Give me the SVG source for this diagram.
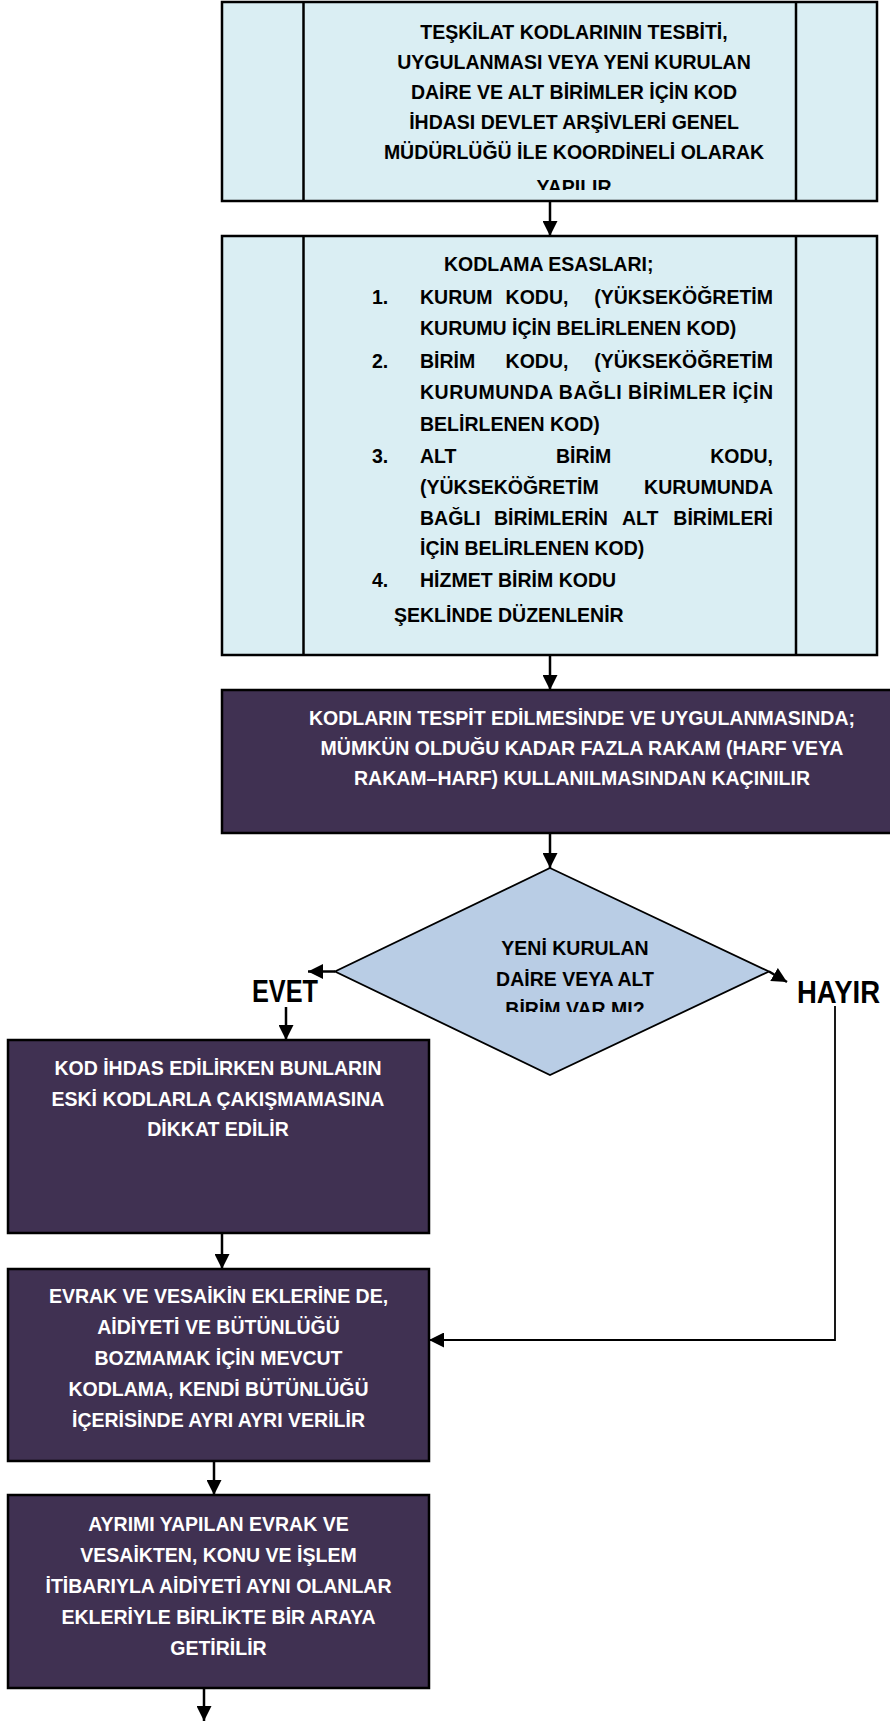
<svg xmlns="http://www.w3.org/2000/svg" width="890" height="1722" viewBox="0 0 890 1722">
<style>
.t{font-family:"Liberation Sans",Arial,sans-serif;font-weight:bold;font-size:19.5px}
.dk{fill:#000}
.wt{fill:#fff}
.c{text-anchor:middle}
.e{text-anchor:end}
.lb{fill:#DAEEF3;stroke:#000;stroke-width:2.5}
.pu{fill:#403152;stroke:#000;stroke-width:2.5}
.dia{fill:#B9CDE5;stroke:#000;stroke-width:1.8}
.ln{stroke:#000;stroke-width:2.5;fill:none}
.cn{stroke:#000;stroke-width:2.5;fill:none}
.cn2{stroke:#000;stroke-width:1.8;fill:none}
.lab{font-family:"Liberation Sans",Arial,sans-serif;font-weight:bold;font-size:31px;fill:#000}
</style>
<defs>
<marker id="ah" viewBox="0 0 10 10" refX="10" refY="5" markerWidth="15" markerHeight="15" markerUnits="userSpaceOnUse" orient="auto">
<path d="M0,0 L10,5 L0,10 z" fill="#000"/>
</marker>
<clipPath id="clip1"><rect x="222" y="0" width="655" height="190"/></clipPath>
<clipPath id="clipD"><rect x="330" y="860" width="450" height="152"/></clipPath>
</defs>
<rect width="890" height="1722" fill="#fff"/>

<g id="connectors">
<line class="cn" x1="550" y1="201" x2="550" y2="236" marker-end="url(#ah)"/>
<line class="cn" x1="550" y1="655" x2="550" y2="690" marker-end="url(#ah)"/>
<line class="cn" x1="550" y1="833" x2="550" y2="868" marker-end="url(#ah)"/>
<line class="cn" x1="335" y1="971.5" x2="308" y2="971.5" marker-end="url(#ah)"/>
<line class="cn" x1="769" y1="971.5" x2="787" y2="982" marker-end="url(#ah)"/>
<line class="cn" x1="286" y1="1007" x2="286" y2="1040" marker-end="url(#ah)"/>
<line class="cn" x1="222" y1="1233" x2="222" y2="1269" marker-end="url(#ah)"/>
<polyline class="cn2" points="835,1006 835,1340 429,1340" marker-end="url(#ah)"/>
<line class="cn" x1="214" y1="1461" x2="214" y2="1495" marker-end="url(#ah)"/>
<line class="cn" x1="204" y1="1688" x2="204" y2="1721" marker-end="url(#ah)"/>
</g>

<g id="node-teskilat">
<rect class="lb" x="222" y="2" width="655" height="199"/>
<line class="ln" x1="303.5" y1="2" x2="303.5" y2="201"/>
<line class="ln" x1="796" y1="2" x2="796" y2="201"/>
<g clip-path="url(#clip1)">
<text class="t dk c" x="574" y="38.7">TEŞKİLAT KODLARININ TESBİTİ,</text>
<text class="t dk c" x="574" y="68.7">UYGULANMASI VEYA YENİ KURULAN</text>
<text class="t dk c" x="574" y="98.7">DAİRE VE ALT BİRİMLER İÇİN KOD</text>
<text class="t dk c" x="574" y="128.7">İHDASI DEVLET ARŞİVLERİ GENEL</text>
<text class="t dk c" x="574" y="158.7">MÜDÜRLÜĞÜ İLE KOORDİNELİ OLARAK</text>
<text class="t dk c" x="574" y="194">YAPILIR</text>
</g>
</g>

<g id="node-kodlama">
<rect class="lb" x="222" y="236" width="655" height="419"/>
<line class="ln" x1="303.5" y1="236" x2="303.5" y2="655"/>
<line class="ln" x1="796" y1="236" x2="796" y2="655"/>
<text class="t dk" x="444" y="270.5">KODLAMA ESASLARI;</text>
<text class="t dk" x="372" y="303.7">1.</text>
<text class="t dk" x="420" y="303.7">KURUM</text>
<text class="t dk" x="505.6" y="303.7">KODU,</text>
<text class="t dk e" x="773" y="303.7">(YÜKSEKÖĞRETİM</text>
<text class="t dk" x="420" y="335">KURUMU İÇİN BELİRLENEN KOD)</text>
<text class="t dk" x="372" y="367.7">2.</text>
<text class="t dk" x="420" y="367.7">BİRİM</text>
<text class="t dk" x="505.6" y="367.7">KODU,</text>
<text class="t dk e" x="773" y="367.7">(YÜKSEKÖĞRETİM</text>
<text class="t dk" x="420" y="399" textLength="353" lengthAdjust="spacing">KURUMUNDA BAĞLI BİRİMLER İÇİN</text>
<text class="t dk" x="420" y="430.5">BELİRLENEN KOD)</text>
<text class="t dk" x="372" y="463">3.</text>
<text class="t dk" x="420" y="463">ALT</text>
<text class="t dk" x="556" y="463">BİRİM</text>
<text class="t dk e" x="773" y="463">KODU,</text>
<text class="t dk" x="420" y="493.5">(YÜKSEKÖĞRETİM</text>
<text class="t dk e" x="773" y="493.5">KURUMUNDA</text>
<text class="t dk" x="420" y="525">BAĞLI</text>
<text class="t dk" x="494" y="525">BİRİMLERİN</text>
<text class="t dk" x="622" y="525">ALT</text>
<text class="t dk e" x="773" y="525">BİRİMLERİ</text>
<text class="t dk" x="420" y="555.4">İÇİN BELİRLENEN KOD)</text>
<text class="t dk" x="372" y="587.4">4.</text>
<text class="t dk" x="420" y="587.4">HİZMET BİRİM KODU</text>
<text class="t dk" x="394" y="622">ŞEKLİNDE DÜZENLENİR</text>
</g>

<g id="node-tespit">
<rect class="pu" x="222" y="690" width="680" height="143"/>
<text class="t wt c" x="582" y="725">KODLARIN TESPİT EDİLMESİNDE VE UYGULANMASINDA;</text>
<text class="t wt c" x="582" y="755">MÜMKÜN OLDUĞU KADAR FAZLA RAKAM (HARF VEYA</text>
<text class="t wt c" x="582" y="785">RAKAM–HARF) KULLANILMASINDAN KAÇINILIR</text>
</g>

<g id="node-karar">
<polygon class="dia" points="550,868 769,971.5 550,1075 335,971.5"/>
<g clip-path="url(#clipD)">
<text class="t dk c" x="575" y="955">YENİ KURULAN</text>
<text class="t dk c" x="575" y="985.5">DAİRE VEYA ALT</text>
<text class="t dk c" x="575" y="1016">BİRİM VAR MI?</text>
</g>
</g>

<g id="label-evet">
<text class="lab" x="252" y="1002" textLength="66" lengthAdjust="spacingAndGlyphs">EVET</text>
</g>
<g id="label-hayir">
<text class="lab" x="797" y="1003" textLength="83" lengthAdjust="spacingAndGlyphs">HAYIR</text>
</g>

<g id="node-ihdas">
<rect class="pu" x="8" y="1040" width="421" height="193"/>
<text class="t wt c" x="218" y="1075">KOD İHDAS EDİLİRKEN BUNLARIN</text>
<text class="t wt c" x="218" y="1105.5">ESKİ KODLARLA ÇAKIŞMAMASINA</text>
<text class="t wt c" x="218" y="1136">DİKKAT EDİLİR</text>
</g>

<g id="node-evrak">
<rect class="pu" x="8" y="1269" width="421" height="192"/>
<text class="t wt c" x="218.5" y="1303">EVRAK VE VESAİKİN EKLERİNE DE,</text>
<text class="t wt c" x="218.5" y="1334">AİDİYETİ VE BÜTÜNLÜĞÜ</text>
<text class="t wt c" x="218.5" y="1365">BOZMAMAK İÇİN MEVCUT</text>
<text class="t wt c" x="218.5" y="1396">KODLAMA, KENDİ BÜTÜNLÜĞÜ</text>
<text class="t wt c" x="218.5" y="1427">İÇERİSİNDE AYRI AYRI VERİLİR</text>
</g>

<g id="node-ayrimi">
<rect class="pu" x="8" y="1495" width="421" height="193"/>
<text class="t wt c" x="218.5" y="1531">AYRIMI YAPILAN EVRAK VE</text>
<text class="t wt c" x="218.5" y="1562">VESAİKTEN, KONU VE İŞLEM</text>
<text class="t wt c" x="218.5" y="1593">İTİBARIYLA AİDİYETİ AYNI OLANLAR</text>
<text class="t wt c" x="218.5" y="1624">EKLERİYLE BİRLİKTE BİR ARAYA</text>
<text class="t wt c" x="218.5" y="1655">GETİRİLİR</text>
</g>
</svg>
